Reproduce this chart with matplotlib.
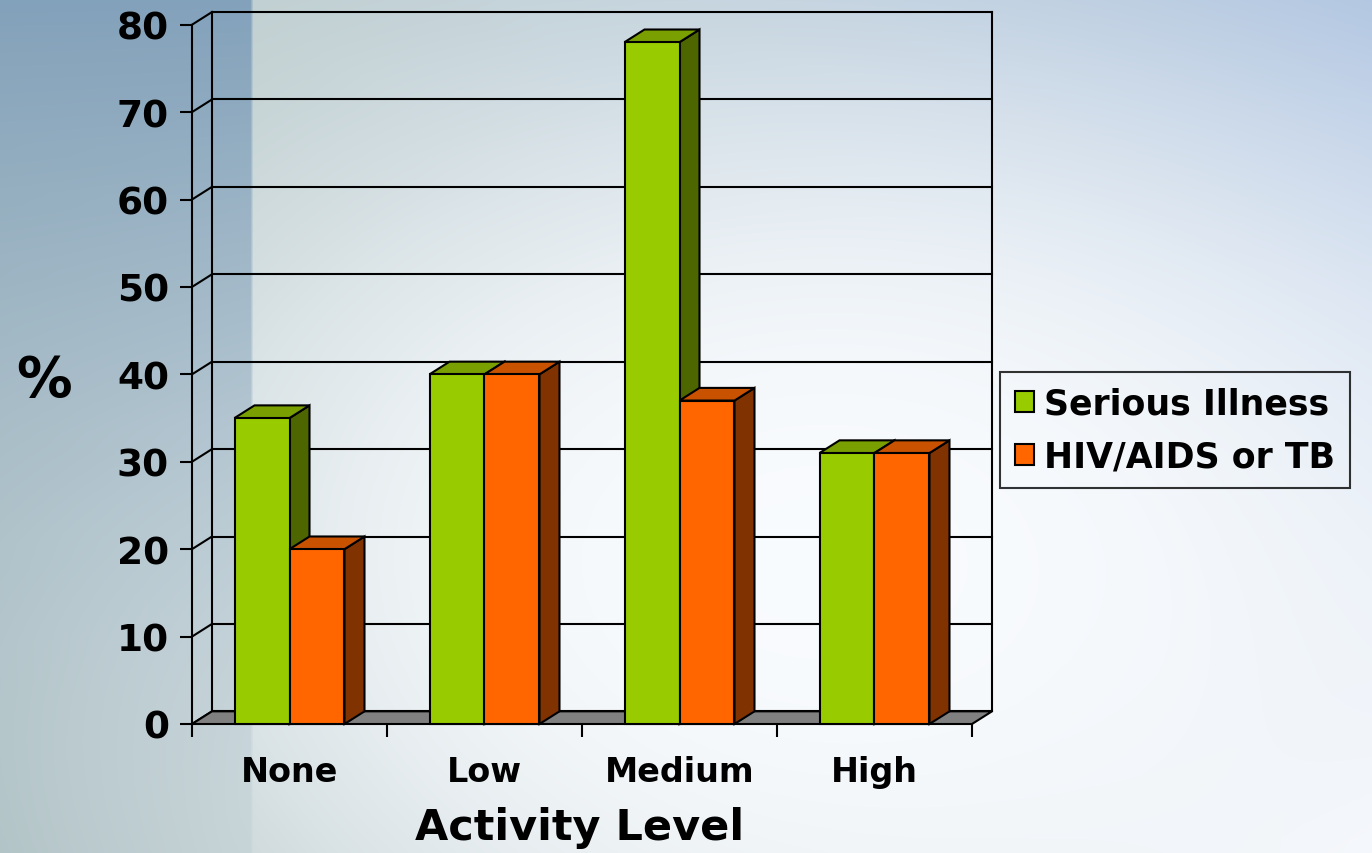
import numpy as np
import matplotlib
matplotlib.use("Agg")
import matplotlib.pyplot as plt
from matplotlib.patches import Polygon, Patch

plt.rcParams['font.family'] = ['DejaVu Sans']
plt.rcParams['font.weight'] = 'bold'

# ---- data ----
categories = ["None", "Low", "Medium", "High"]
serious_illness = [35, 40, 78, 31]
hiv_aids_tb = [20, 40, 37, 31]
series_names = ["Serious Illness", "HIV/AIDS or TB"]
y_ticks = [0, 10, 20, 30, 40, 50, 60, 70, 80]

W, H = 1372, 854
fig = plt.figure(figsize=(W / 100, H / 100), dpi=100)

# ---- background gradient ----
bg = fig.add_axes([0, 0, 1, 1], zorder=-10)
yy, xx = np.mgrid[0:H, 0:W].astype(float)
u = xx / W
v = yy / H
TL = np.array([0.74, 0.80, 0.78])
TR = np.array([0.66, 0.75, 0.87])
BL = np.array([0.64, 0.72, 0.73])
BR = np.array([0.95, 0.96, 0.98])
base = ((1 - u)[..., None] * (1 - v)[..., None] * TL + u[..., None] * (1 - v)[..., None] * TR
        + (1 - u)[..., None] * v[..., None] * BL + u[..., None] * v[..., None] * BR)
g = np.exp(-(((xx - 820) / 760) ** 2 + ((yy - 560) / 520) ** 2) ** 1.3)
white = np.array([0.975, 0.985, 0.995])
img = base * (1 - g[..., None]) + white * g[..., None]
# left darker strip
strip_top = np.array([0.47, 0.60, 0.72])
strip_bot = np.array([0.70, 0.77, 0.79])
sc = strip_top * (1 - v[..., None]) + strip_bot * v[..., None]
alpha = (0.85 - 0.55 * v) * np.clip((253 - xx) / 3.0, 0, 1)
img = img * (1 - alpha[..., None]) + sc * alpha[..., None]
bg.imshow(np.clip(img, 0, 1), aspect='auto', extent=[0, W, H, 0])
bg.axis('off')

# ---- main axes (front plane) ----
x0, x1 = 192, 972
y0, y1 = 725, 25.7
ax = fig.add_axes([x0 / W, (H - y0) / H, (x1 - x0) / W, (y0 - y1) / H])
ax.set_xlim(0, len(categories))
ax.set_ylim(0, 80)
ax.patch.set_alpha(0)
for s in ['top', 'right', 'bottom']:
    ax.spines[s].set_visible(False)
ax.spines['left'].set_linewidth(1.5)

DX = 20 / 195.0
DY = 1.45
lw = 1.5
n = len(categories)

# back wall gridlines and left wall diagonals
for t in y_ticks:
    ax.plot([DX, n + DX], [t + DY, t + DY], color='black', lw=lw, zorder=1, clip_on=False)
    ax.plot([0, DX], [t, t + DY], color='black', lw=lw, zorder=1, clip_on=False)
ax.plot([DX, DX], [DY, 80 + DY], color='black', lw=lw, zorder=1, clip_on=False)
ax.plot([n + DX, n + DX], [DY, 80 + DY], color='black', lw=lw, zorder=1, clip_on=False)

# floor
ax.add_patch(Polygon([[0, 0], [n, 0], [n + DX, DY], [DX, DY]], closed=True,
                     facecolor='#808080', edgecolor='black', lw=lw, zorder=2, clip_on=False))

bw = 0.282
xs = np.arange(n) + 0.5

def draw_series(xpos, vals, front, top, side, z):
    ax.bar(xpos, vals, width=bw, align='edge', color=front, edgecolor='black',
           linewidth=lw, zorder=z + 1, clip_on=False)
    for xl, val in zip(xpos, vals):
        xr = xl + bw
        ax.add_patch(Polygon([[xr, 0], [xr + DX, DY], [xr + DX, val + DY], [xr, val]],
                             closed=True, facecolor=side, edgecolor='black', lw=lw,
                             zorder=z, clip_on=False))
        ax.add_patch(Polygon([[xl, val], [xr, val], [xr + DX, val + DY], [xl + DX, val + DY]],
                             closed=True, facecolor=top, edgecolor='black', lw=lw,
                             zorder=z, clip_on=False))

draw_series(xs - bw, serious_illness, '#99cc00', '#7a9f00', '#4d6600', 4)
draw_series(xs, hiv_aids_tb, '#ff6600', '#c85200', '#803300', 6)

# ticks
ax.set_yticks(y_ticks)
ax.set_yticklabels([str(t) for t in y_ticks], fontsize=27, fontweight='bold')
ax.tick_params(axis='y', direction='out', length=8.6, width=1.5, pad=8)
ax.set_xticks(np.arange(n + 1))
ax.set_xticklabels([])
ax.tick_params(axis='x', which='major', direction='out', length=9.4, width=1.5)
ax.set_xticks(xs, minor=True)
ax.set_xticklabels(categories, minor=True, fontsize=24, fontweight='bold')
ax.tick_params(axis='x', which='minor', length=0, pad=22)

ax.set_ylabel('%', rotation=0, fontsize=40, fontweight='bold', va='center', ha='center')
ax.yaxis.set_label_coords(-0.19, 0.492)
ax.set_xlabel('Activity Level', fontsize=31, fontweight='bold', va='center')
ax.xaxis.set_label_coords(0.497, -0.148)

handles = [Patch(facecolor='#99cc00', edgecolor='black', lw=1.5),
           Patch(facecolor='#ff6600', edgecolor='black', lw=1.5)]
leg = fig.legend(handles, series_names, loc='upper left',
                 bbox_to_anchor=(1000 / W, 1 - 373 / H), fontsize=25,
                 frameon=True, fancybox=False, handlelength=0.55, handleheight=0.55,
                 handletextpad=0.3, labelspacing=0.55, borderpad=0.42, borderaxespad=0)
leg.get_frame().set_facecolor('none')
leg.get_frame().set_edgecolor('black')
leg.get_frame().set_linewidth(1.5)
for t in leg.get_texts():
    t.set_fontweight('bold')

fig.savefig('out.png', dpi=100)
